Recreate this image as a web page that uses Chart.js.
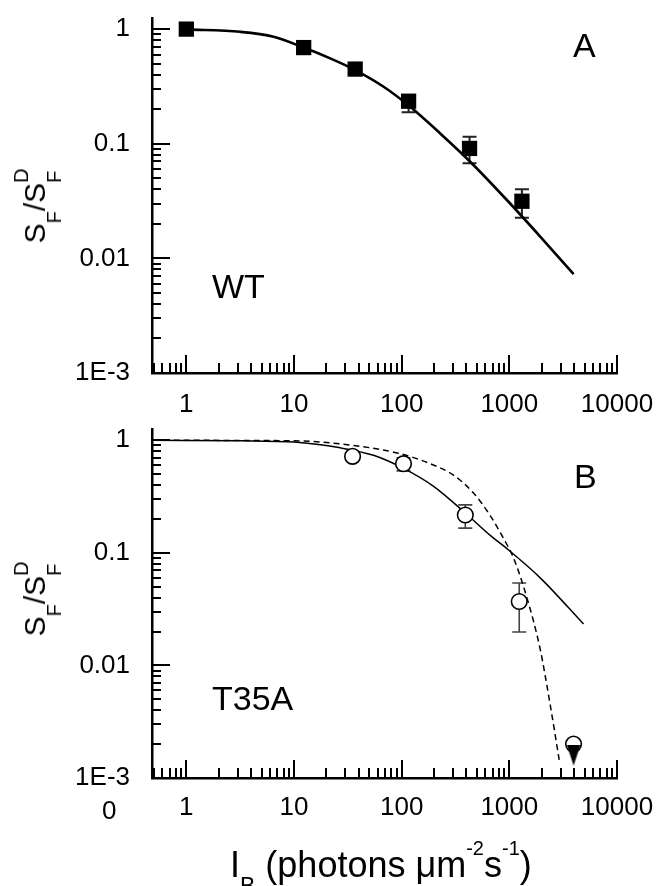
<!DOCTYPE html>
<html><head><meta charset="utf-8">
<script src="https://cdn.jsdelivr.net/npm/chart.js@4"></script>
<style>
html,body{margin:0;padding:0;background:#fff}
body{width:658px;height:886px;position:relative;overflow:hidden;font-family:"Liberation Sans",Arial,Helvetica,sans-serif;color:#000}
canvas{position:absolute;left:0}
.t{position:absolute;line-height:1;white-space:nowrap}
.big{font-size:34px}
.ytitle{position:absolute;font-size:30px;line-height:1;white-space:nowrap;transform:translate(-50%,-50%) rotate(-90deg)}
.ytitle .sb{font-size:20px;position:relative;top:16px}
.ytitle .st{font-size:20px;position:relative;display:inline-block;line-height:1}
.ytitle .st .f{position:relative;top:16px}
.ytitle .st .d{position:absolute;left:0;top:-17px}
.xtitle{position:absolute;font-size:36px;line-height:1;white-space:nowrap}
.xtitle .sb{font-size:23px;position:relative;top:17px}
.xtitle .sp{font-size:20px;position:relative;top:-22px}
</style></head><body>
<canvas id="cA" width="658" height="420" style="top:0"></canvas>
<canvas id="cB" width="658" height="466" style="top:420px"></canvas>

<div class="t big" style="left:573px;top:27.6px">A</div>
<div class="t big" style="left:212px;top:268.6px">WT</div>
<div class="t big" style="left:574px;top:458.6px">B</div>
<div class="t big" style="left:212px;top:680.6px">T35A</div>
<div class="t" style="font-size:26px;left:102px;top:796.6px">0</div>

<div class="ytitle" style="left:35px;top:207px">S<span class="sb">F</span>/S<span class="st"><span class="f">F</span><span class="d">D</span></span></div>
<div class="ytitle" style="left:35px;top:600px">S<span class="sb">F</span>/S<span class="st"><span class="f">F</span><span class="d">D</span></span></div>

<div class="xtitle" style="left:230px;top:846.5px">I<span class="sb">B</span> (photons μm<span class="sp">-2</span>s<span class="sp">-1</span>)</div>

<script>
// ---- tick values / labels ----
const xMajorTicks = [1, 10, 100, 1000, 10000];
const xTickLabels = ["1", "10", "100", "1000", "10000"];
const yMajorTicks = [0.001, 0.01, 0.1, 1];
const yTickLabels = ["1E-3", "0.01", "0.1", "1"];

// ---- Panel A (WT) ----
const wtX = [1, 12.3, 37, 116, 427, 1309];
const wtY = [1.0, 0.69, 0.448, 0.235, 0.091, 0.0315];
const wtErrHi = [null, null, null, 0.266, 0.115, 0.040];
const wtErrLo = [null, null, null, 0.188, 0.0675, 0.0226];
const fitAX = [1, 3.17, 6.47, 12.3, 21.7, 37, 68, 120, 228, 433, 949, 1936, 3953];
const fitAY = [0.994, 0.947, 0.857, 0.69, 0.555, 0.439, 0.314, 0.21, 0.123, 0.0697, 0.0323, 0.0155, 0.0073];

// ---- Panel B (T35A) ----
const t35X = [35, 104, 390, 1236, 3950];
const t35Y = [0.72, 0.62, 0.217, 0.037, 0.002];
const t35ErrHi = [0.75, 0.70, 0.267, 0.054, null];
const t35ErrLo = [0.69, 0.535, 0.166, 0.0198, null];
const limitX = [3950];
const limitY = [0.0016];
const fitBSolidX = [0.497, 3.17, 10, 26.9, 54.8, 104, 198, 390, 665, 984, 1936, 4890];
const fitBSolidY = [1.0, 0.99, 0.965, 0.857, 0.736, 0.563, 0.39, 0.226, 0.143, 0.106, 0.060, 0.0233];
const fitBDashX = [0.497, 10, 35.8, 97, 184, 303, 465, 665, 884, 1094, 1456, 1936, 2397, 2926];
const fitBDashY = [1.0, 0.99, 0.90, 0.76, 0.62, 0.49, 0.34, 0.214, 0.134, 0.09, 0.040, 0.0139, 0.00446, 0.00139];

const FONT = '"Liberation Sans", Arial, Helvetica, sans-serif';
const pts = (xs, ys) => xs.map((x, i) => ({x: x, y: ys[i]}));

function minorsOf(majors, lo, hi) {
  const out = [];
  const first = majors[0] / 10;
  const decs = [first].concat(majors);
  decs.forEach(d => { for (let m = 2; m <= 9; m++) { const v = d * m; if (v >= lo && v <= hi) out.push(v); } });
  return out;
}

// down-pointing filled triangle marker
const tri = document.createElement('canvas');
tri.width = 14; tri.height = 21;
(function(){ const c = tri.getContext('2d'); c.fillStyle = '#000'; c.beginPath(); c.moveTo(0,0); c.lineTo(14,0); c.lineTo(7,21); c.closePath(); c.fill(); })();

const inwardTicks = {
  id: 'inwardTicks',
  afterDraw(chart) {
    const ctx = chart.ctx, a = chart.chartArea, xs = chart.scales.x, ys = chart.scales.y;
    ctx.save();
    ctx.strokeStyle = '#000'; ctx.lineWidth = 2; ctx.lineCap = 'butt';
    const xmaj = xMajorTicks, xmin = minorsOf(xMajorTicks, xs.min, xs.max);
    const ymaj = yMajorTicks, ymin = minorsOf(yMajorTicks, ys.min, ys.max);
    ctx.beginPath();
    xmaj.forEach(v => { const p = Math.round(xs.getPixelForValue(v)); ctx.moveTo(p, a.bottom); ctx.lineTo(p, a.bottom - 18); });
    xmin.forEach(v => { const p = Math.round(xs.getPixelForValue(v)); ctx.moveTo(p, a.bottom); ctx.lineTo(p, a.bottom - 10); });
    ymaj.forEach(v => { const p = Math.round(ys.getPixelForValue(v)); ctx.moveTo(a.left, p); ctx.lineTo(a.left + 18, p); });
    ymin.forEach(v => { const p = Math.round(ys.getPixelForValue(v)); ctx.moveTo(a.left, p); ctx.lineTo(a.left + 9, p); });
    ctx.stroke();
    ctx.restore();
  }
};

const errorBars = {
  id: 'errorBars',
  beforeDatasetsDraw(chart, args, opts) {
    const ctx = chart.ctx, xs = chart.scales.x, ys = chart.scales.y;
    ctx.save();
    ctx.strokeStyle = opts.color; ctx.lineWidth = opts.width;
    ctx.beginPath();
    opts.x.forEach((x, i) => {
      if (opts.hi[i] == null) return;
      const px = xs.getPixelForValue(x), ph = ys.getPixelForValue(opts.hi[i]), pl = ys.getPixelForValue(opts.lo[i]);
      ctx.moveTo(px, ph); ctx.lineTo(px, pl);
      ctx.moveTo(px - 7, ph); ctx.lineTo(px + 7, ph);
      ctx.moveTo(px - 7, pl); ctx.lineTo(px + 7, pl);
    });
    ctx.stroke();
    ctx.restore();
  }
};

function makeScales(xAxisHeight, xPad) {
  return {
    x: {
      type: 'logarithmic', min: 0.48, max: 10000,
      border: {display: true, width: 2.5, color: '#000'},
      grid: {display: false, drawTicks: false},
      ticks: {
        color: '#000', font: {family: FONT, size: 26}, padding: xPad, autoSkip: false, maxRotation: 0,
        callback: (v) => { const i = xMajorTicks.indexOf(v); return i >= 0 ? xTickLabels[i] : ''; }
      },
      afterBuildTicks: (s) => { s.ticks = xMajorTicks.map(v => ({value: v})); },
      afterFit: (s) => { s.height = xAxisHeight; s.paddingLeft = 0; s.paddingRight = 0; }
    },
    y: {
      type: 'logarithmic', min: 0.001, max: 1.25,
      border: {display: true, width: 2.5, color: '#000'},
      grid: {display: false, drawTicks: false},
      ticks: {
        color: '#000', font: {family: FONT, size: 26}, padding: 22, autoSkip: false,
        callback: (v) => { const i = yMajorTicks.indexOf(v); return i >= 0 ? yTickLabels[i] : ''; }
      },
      afterBuildTicks: (s) => { s.ticks = yMajorTicks.map(v => ({value: v})); },
      afterFit: (s) => { s.width = 152; s.paddingTop = 0; s.paddingBottom = 0; }
    }
  };
}

const common = {
  responsive: false, animation: false, devicePixelRatio: 1,
  plugins: {legend: {display: false}, tooltip: {enabled: false}}
};

new Chart(document.getElementById('cA'), {
  type: 'line',
  data: {
    datasets: [
      {data: pts(wtX, wtY), showLine: false, pointStyle: 'rect', pointRadius: 10.8,
       pointBackgroundColor: '#000', pointBorderColor: '#000', pointBorderWidth: 0},
      {data: pts(fitAX, fitAY), borderColor: '#000', borderWidth: 2.6, pointRadius: 0,
       cubicInterpolationMode: 'monotone', fill: false}
    ]
  },
  options: Object.assign({}, common, {
    layout: {padding: {left: 0, top: 18, right: 41, bottom: 0}},
    scales: makeScales(47, 16),
    plugins: Object.assign({}, common.plugins, {
      errorBars: {x: wtX, hi: wtErrHi, lo: wtErrLo, color: '#222', width: 2}
    })
  }),
  plugins: [inwardTicks, errorBars]
});

new Chart(document.getElementById('cB'), {
  type: 'line',
  data: {
    datasets: [
      {data: pts(limitX, limitY), showLine: false, pointStyle: tri, pointRadius: 7},
      {data: pts(t35X, t35Y), showLine: false, pointStyle: 'circle', pointRadius: 7.8,
       pointBackgroundColor: '#fff', pointBorderColor: '#000', pointBorderWidth: 1.6},
      {data: pts(fitBSolidX, fitBSolidY), borderColor: '#000', borderWidth: 1.5, pointRadius: 0,
       cubicInterpolationMode: 'monotone', fill: false},
      {data: pts(fitBDashX, fitBDashY), borderColor: '#000', borderWidth: 1.5, borderDash: [6, 4], pointRadius: 0,
       cubicInterpolationMode: 'monotone', fill: false}
    ]
  },
  options: Object.assign({}, common, {
    layout: {padding: {left: 0, top: 3, right: 41, bottom: 0}},
    scales: makeScales(108, 14),
    plugins: Object.assign({}, common.plugins, {
      errorBars: {x: t35X, hi: t35ErrHi, lo: t35ErrLo, color: '#444', width: 1.6}
    })
  }),
  plugins: [inwardTicks, errorBars]
});
</script>
</body></html>
